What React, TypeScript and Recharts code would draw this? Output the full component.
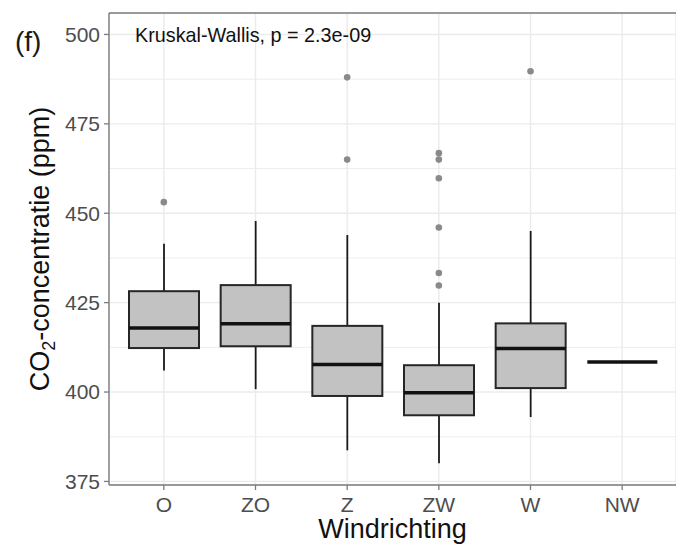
import React from "react";
import {
  ComposedChart,
  Bar,
  Scatter,
  XAxis,
  YAxis,
  CartesianGrid,
  ReferenceLine,
} from "recharts";

// wind directions and box statistics (ppm)
const directions = ["O", "ZO", "Z", "ZW", "W", "NW"];
const whiskerLow = [406.0, 400.8, 383.7, 380.1, 393.0, 408.4];
const lowerQuartile = [412.3, 412.8, 398.9, 393.5, 401.1, 408.4];
const medians = [417.9, 419.1, 407.7, 399.8, 412.2, 408.4];
const upperQuartile = [428.2, 429.9, 418.5, 407.5, 419.2, 408.4];
const whiskerHigh = [441.5, 447.8, 443.9, 425.0, 445.0, 408.4];
const outliers = [
  [453.1],
  [],
  [465.0, 488.0],
  [429.8, 433.3, 446.0, 459.8, 465.0, 466.8],
  [489.7],
  [],
];
const yTicks = [375, 400, 425, 450, 475, 500];
const yMinorTicks = [387.5, 412.5, 437.5, 462.5, 487.5];
const yDomain = [374, 506];

const maxOutliers = Math.max(...outliers.map((o) => o.length));
const outlierKeys = Array.from({ length: maxOutliers }, (_, i) => `o${i}`);

const rows = directions.map((dir, i) => {
  const row: any = {
    dir,
    low: whiskerLow[i],
    q1: lowerQuartile[i],
    med: medians[i],
    q3: upperQuartile[i],
    high: whiskerHigh[i],
  };
  outliers[i].forEach((v, j) => {
    row[`o${j}`] = v;
  });
  return row;
});

const FONT = "'Liberation Sans', Arial, sans-serif";
const GRID = "#ebebeb";
const FRAME = "#7d7d7d";
const TICK_TEXT = "#4d4d4d";

function BoxShape(props: any) {
  const { x, y, width, height, payload } = props;
  if (!payload) return <g />;
  const { low, high, q1, med, q3 } = payload;
  const cx = x + width / 2;
  if (high === low || !height) {
    return (
      <line x1={x} x2={x + width} y1={y} y2={y} stroke="#111" strokeWidth={3.5} />
    );
  }
  const k = height / (high - low);
  const toY = (v: number) => y + (high - v) * k;
  return (
    <g>
      <line x1={cx} x2={cx} y1={toY(high)} y2={toY(q3)} stroke="#1a1a1a" strokeWidth={1.8} />
      <line x1={cx} x2={cx} y1={toY(q1)} y2={toY(low)} stroke="#1a1a1a" strokeWidth={1.8} />
      <rect
        x={x}
        y={toY(q3)}
        width={width}
        height={toY(q1) - toY(q3)}
        fill="#c2c2c2"
        stroke="#262626"
        strokeWidth={2}
      />
      <line x1={x} x2={x + width} y1={toY(med)} y2={toY(med)} stroke="#111" strokeWidth={3.5} />
    </g>
  );
}

export default function App() {
  return (
    <div style={{ position: "absolute", left: 0, top: 0, width: 676, height: 547, background: "#fff" }}>
      <ComposedChart
        width={676}
        height={547}
        data={rows}
        margin={{ top: 13, right: 0, bottom: 0, left: 0 }}
      >
        <CartesianGrid
          vertical={false}
          horizontalValues={yMinorTicks}
          stroke={GRID}
          strokeWidth={0.9}
        />
        <CartesianGrid stroke={GRID} strokeWidth={1.4} />
        <XAxis
          dataKey="dir"
          height={62}
          padding={{ left: 9, right: 8 }}
          tickSize={5}
          tickMargin={7}
          tickLine={{ stroke: FRAME, strokeWidth: 1.3 }}
          axisLine={{ stroke: FRAME, strokeWidth: 1.4 }}
          tick={{ fill: TICK_TEXT, fontSize: 21, fontFamily: FONT }}
        />
        <YAxis
          type="number"
          domain={yDomain}
          ticks={yTicks}
          allowDataOverflow
          width={109}
          tickSize={5}
          tickMargin={4}
          tickLine={{ stroke: FRAME, strokeWidth: 1.3 }}
          axisLine={{ stroke: FRAME, strokeWidth: 1.4 }}
          tick={{ fill: TICK_TEXT, fontSize: 21, fontFamily: FONT }}
        />
        <ReferenceLine y={yDomain[1]} stroke={FRAME} strokeWidth={1.4} />
        <Bar
          dataKey={(d: any) => [d.low, d.high]}
          barSize={70}
          shape={BoxShape}
          isAnimationActive={false}
        />
        {outlierKeys.map((key) => (
          <Scatter
            key={key}
            dataKey={key}
            isAnimationActive={false}
            shape={(p: any) =>
              p.payload == null || p.payload[key] == null ? (
                <g />
              ) : (
                <circle cx={p.cx} cy={p.cy} r={3.3} fill="#8a8a8a" />
              )
            }
          />
        ))}
      </ComposedChart>
      <svg
        width={676}
        height={547}
        style={{ position: "absolute", left: 0, top: 0, pointerEvents: "none" }}
      >
        <text x={15} y={51} fontSize={28} fontFamily={FONT} fill="#1a1a1a">
          (f)
        </text>
        <text x={135} y={41.5} fontSize={19.8} fontFamily={FONT} fill="#111">
          Kruskal-Wallis, p = 2.3e-09
        </text>
        <text
          transform="rotate(-90)"
          x={-249}
          y={49}
          textAnchor="middle"
          fontSize={27}
          fontFamily={FONT}
          fill="#111"
        >
          CO
          <tspan fontSize={18} dy={6}>
            2
          </tspan>
          <tspan dy={-6}>-concentratie (ppm)</tspan>
        </text>
        <text x={392.5} y={538} textAnchor="middle" fontSize={27} fontFamily={FONT} fill="#111">
          Windrichting
        </text>
      </svg>
    </div>
  );
}
